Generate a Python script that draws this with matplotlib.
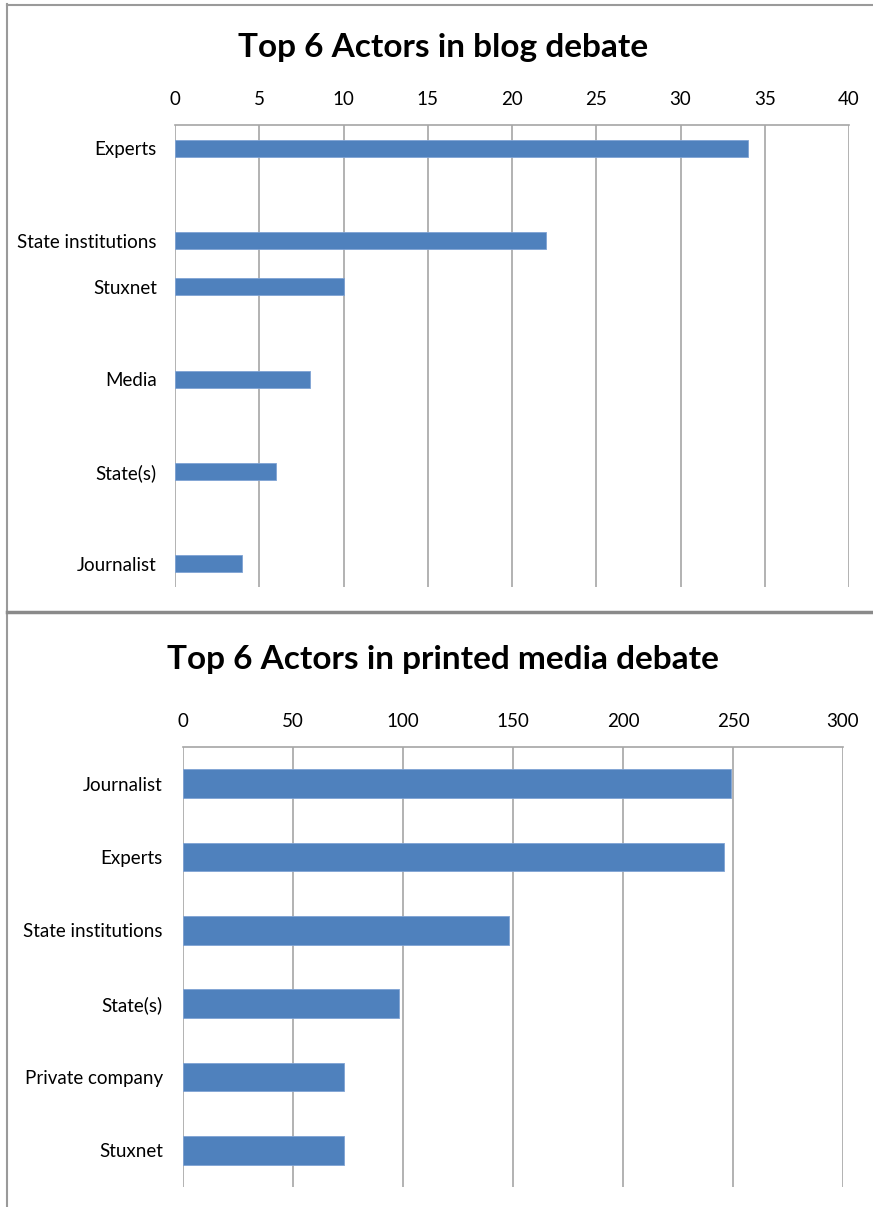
import matplotlib.pyplot as plt
from matplotlib.lines import Line2D

# blog debate (top chart) - the category axis has empty slots between bars
blog_actors = ["Experts", "State institutions", "Stuxnet", "Media", "State(s)", "Journalist"]
blog_counts = [34, 22, 10, 8, 6, 4]
blog_slots = [0, 2, 3, 5, 7, 9]
blog_ticks = [0, 5, 10, 15, 20, 25, 30, 35, 40]

# printed media debate (bottom chart)
print_actors = ["Journalist", "Experts", "State institutions", "State(s)", "Private company", "Stuxnet"]
print_counts = [249, 246, 148, 98, 73, 73]
print_ticks = [0, 50, 100, 150, 200, 250, 300]

BAR = "#4F81BD"
GRID = "#A6A6A6"
W, H = 873, 1207

plt.rcParams["font.family"] = ["Lato", "DejaVu Sans"]

fig = plt.figure(figsize=(W / 100, H / 100), dpi=100)


def px_axes(x0, x1, y0, y1):
    # pixel box (top-left origin) -> figure fraction
    return fig.add_axes([x0 / W, 1 - y1 / H, (x1 - x0) / W, (y1 - y0) / H])


def style(ax, ticks, pad_y):
    ax.set_xticks(ticks)
    ax.xaxis.tick_top()
    ax.tick_params(axis="x", length=0, pad=12.5, labelsize=13.5, colors="black")
    ax.tick_params(axis="y", length=0, pad=pad_y, labelsize=13.5)
    ax.grid(axis="x", color=GRID, linewidth=1.2)
    ax.set_axisbelow(True)
    for s in ["left", "right", "bottom"]:
        ax.spines[s].set_visible(False)
    ax.spines["top"].set_color(GRID)
    ax.spines["top"].set_linewidth(1.2)


# top chart
ax1 = px_axes(175, 849, 125, 587)
ax1.barh(blog_slots, blog_counts, height=0.37, color=BAR, edgecolor="#7FA3D4", linewidth=0.6)
ax1.set_xlim(0, 40)
ax1.set_ylim(9.5, -0.5)
ax1.set_yticks(blog_slots)
ax1.set_yticklabels(blog_actors)
style(ax1, blog_ticks, 13)
fig.text(443 / W, 1 - 47 / H, "Top 6 Actors in blog debate", ha="center", va="center",
         fontsize=24, fontweight="bold")

# bottom chart
ax2 = px_axes(183, 843, 747, 1187)
ax2.barh(range(len(print_actors)), print_counts, height=0.39, color=BAR, edgecolor="#7FA3D4", linewidth=0.6)
ax2.set_xlim(0, 300)
ax2.set_ylim(5.5, -0.5)
ax2.set_yticks(range(len(print_actors)))
ax2.set_yticklabels(print_actors)
style(ax2, print_ticks, 14.5)
fig.text(443 / W, 1 - 660 / H, "Top 6 Actors in printed media debate", ha="center", va="center",
         fontsize=24, fontweight="bold")

# frame lines of the screenshot
fig.add_artist(Line2D([7 / W, 7 / W], [0, 1 - 4 / H], color="#9A9A9A", linewidth=1.5))
fig.add_artist(Line2D([7 / W, 1], [1 - 5 / H, 1 - 5 / H], color="#9A9A9A", linewidth=1.5))
fig.add_artist(Line2D([7 / W, 1], [1 - 612 / H, 1 - 612 / H], color="#8A8A8A", linewidth=2.5))

fig.savefig("out.png", dpi=100)
